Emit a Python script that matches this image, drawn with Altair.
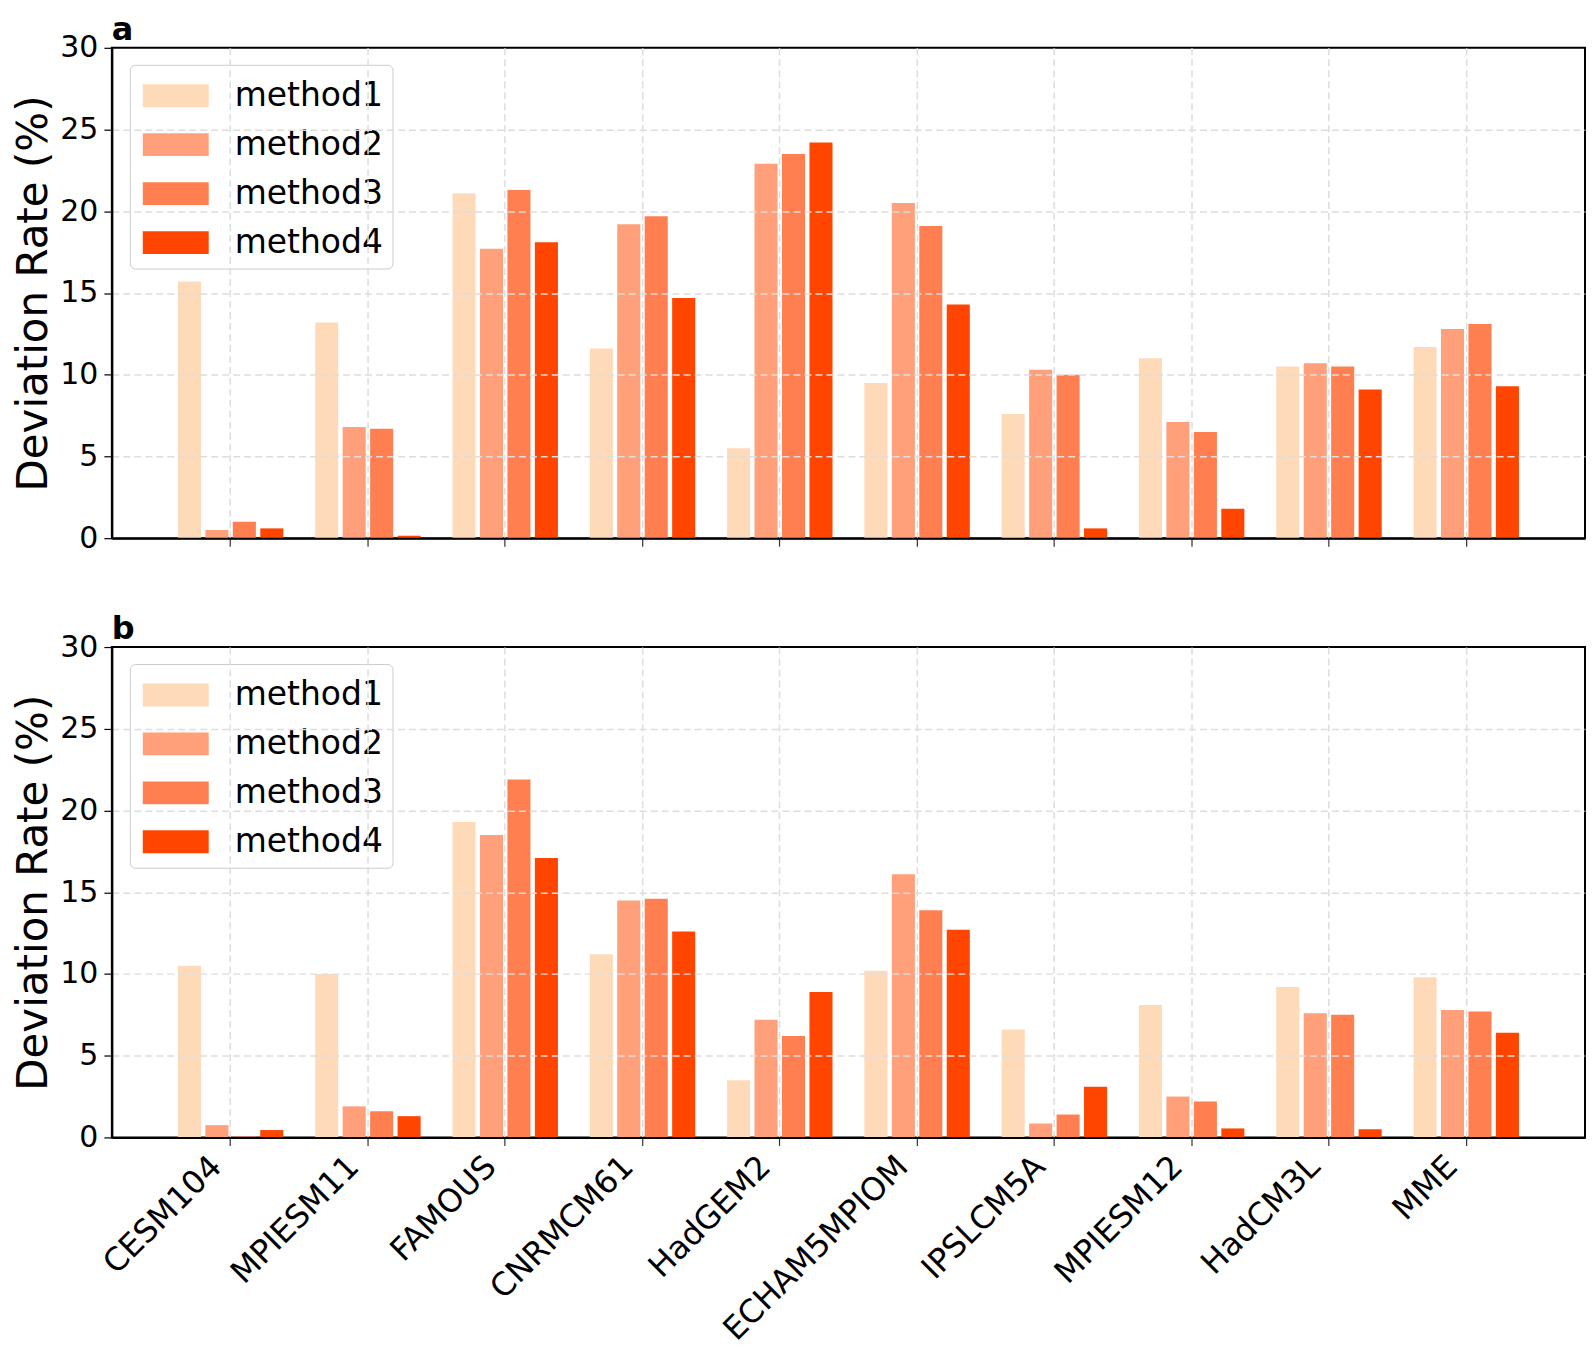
import altair as alt
import pandas as pd

models = ["CESM104", "MPIESM11", "FAMOUS", "CNRMCM61", "HadGEM2",
          "ECHAM5MPIOM", "IPSLCM5A", "MPIESM12", "HadCM3L", "MME"]
methods = ["method1", "method2", "method3", "method4"]
colors = ["#FFDAB9", "#FFA07A", "#FF7F50", "#FF4500"]
y_ticks = [0, 5, 10, 15, 20, 25, 30]

# panel a
a_method1 = [15.7, 13.2, 21.1, 11.6, 5.5, 9.5, 7.6, 11.0, 10.5, 11.7]
a_method2 = [0.5, 6.8, 17.7, 19.2, 22.9, 20.5, 10.3, 7.1, 10.7, 12.8]
a_method3 = [1.0, 6.7, 21.3, 19.7, 23.5, 19.1, 10.0, 6.5, 10.5, 13.1]
a_method4 = [0.6, 0.15, 18.1, 14.7, 24.2, 14.3, 0.6, 1.8, 9.1, 9.3]

# panel b
b_method1 = [10.5, 10.0, 19.3, 11.2, 3.5, 10.2, 6.6, 8.1, 9.2, 9.8]
b_method2 = [0.75, 1.9, 18.5, 14.5, 7.2, 16.1, 0.85, 2.5, 7.6, 7.8]
b_method3 = [0.05, 1.6, 21.9, 14.6, 6.2, 13.9, 1.4, 2.2, 7.5, 7.7]
b_method4 = [0.45, 1.3, 17.1, 12.6, 8.9, 12.7, 3.1, 0.55, 0.5, 6.4]


def make_df(series):
    rows = []
    for meth, vals in zip(methods, series):
        for m, v in zip(models, vals):
            rows.append({"model": m, "method": meth, "value": v})
    return pd.DataFrame(rows)


df_a = make_df([a_method1, a_method2, a_method3, a_method4])
df_b = make_df([b_method1, b_method2, b_method3, b_method4])

FONT = "DejaVu Sans"
W, H = 1475, 491
path = "M-0.82,-0.52H2.18V0.52H-0.82Z"
edge_grid_off = {"condition": {"test": "datum.value === 0 || datum.value === 30",
                               "value": 0}, "value": 1}


def panel(df, label, show_labels):
    common_x = dict(title=None, tickSize=8, tickColor="#333333", tickWidth=1.2,
                    grid=True, gridDash=[7, 4], gridColor="#dddddd",
                    gridWidth=1.5, domain=True, domainColor="black",
                    domainWidth=2, zindex=1)
    if show_labels:
        xaxis = alt.Axis(labelAngle=-45, labelAlign="right",
                         labelBaseline="top", labelFontSize=32, labelFont=FONT,
                         labelColor="black", labelPadding=5, labelOffset=-25,
                         labelLimit=0, labelOverlap=False, **common_x)
    else:
        xaxis = alt.Axis(labels=False, **common_x)
    return alt.Chart(df).mark_bar().encode(
        x=alt.X("model:N", sort=models,
                scale=alt.Scale(paddingInner=0, paddingOuter=0.365),
                axis=xaxis),
        xOffset=alt.XOffset("method:N", sort=methods,
                            scale=alt.Scale(paddingInner=0.16, paddingOuter=0.58)),
        y=alt.Y("value:Q", scale=alt.Scale(domain=[0, 30], nice=False),
                axis=alt.Axis(values=y_ticks, title="Deviation Rate (%)",
                              titleFontSize=42, titleFont=FONT,
                              titleFontWeight="normal", titleColor="black",
                              titlePadding=4,
                              labelFontSize=30, labelFont=FONT,
                              labelColor="black", labelPadding=6,
                              tickSize=8, tickColor="black", tickWidth=1.2,
                              grid=True, gridDash=[7, 4], gridColor="#dddddd",
                              gridWidth=1.5, gridOpacity=edge_grid_off,
                              domain=True, domainColor="black",
                              domainWidth=2, zindex=1)),
        color=alt.Color("method:N", sort=methods,
                        scale=alt.Scale(domain=methods, range=colors),
                        legend=alt.Legend(
                            title=None, orient="none", legendX=18, legendY=17,
                            labelFontSize=33, labelFont=FONT,
                            labelColor="black", labelLimit=0,
                            symbolType=path, symbolSize=1936,
                            symbolStrokeWidth=0, symbolOpacity=1,
                            labelOffset=52, rowPadding=10, padding=9,
                            fillColor="white", strokeColor="#cccccc",
                            cornerRadius=5)),
    ).properties(
        width=W, height=H,
        title=alt.TitleParams(label, anchor="start", frame="group",
                              fontSize=32, font=FONT, fontWeight="bold",
                              color="black", offset=-14),
    )


chart = alt.vconcat(
    panel(df_a, "a", False),
    panel(df_b, "b", True),
    spacing=58,
).resolve_scale(color="independent").resolve_legend(
    color="independent"
).properties(
    padding={"left": 3, "top": 4, "right": 0, "bottom": 0}
).configure_view(stroke="black", strokeWidth=2)

chart.save("out.html", embed_options={"renderer": "svg", "actions": False})
